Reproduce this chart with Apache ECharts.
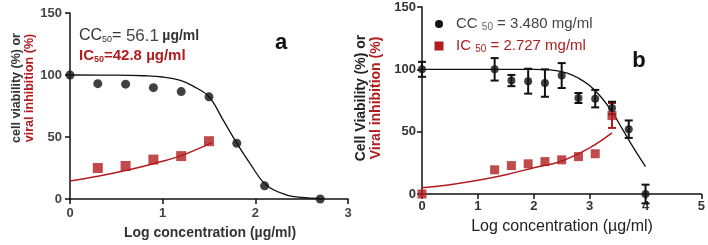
<!DOCTYPE html>
<html><head><meta charset="utf-8">
<script src="https://cdn.jsdelivr.net/npm/echarts@6/dist/echarts.min.js"></script>
<style>html,body{margin:0;padding:0;background:#fff}#c{width:708px;height:245px}</style>
</head><body><div id="c"></div>
<script>
// Panel a
const aXTicks = [0, 1, 2, 3];
const aYTicks = [0, 50, 100, 150];
const aViability = [[0,100],[0.3,93],[0.6,92.6],[0.9,89.8],[1.2,86.6],[1.5,82.4],[1.8,45],[2.1,10.6],[2.7,0]];
const aInhibition = [[0.3,25],[0.6,26.6],[0.9,31.8],[1.2,34.6],[1.5,46.6]];
const aViabilityFit = [[0,100],[0.5,99.9],[0.8,99.4],[1.0,98.4],[1.2,95.5],[1.33,91],[1.5,82.5],[1.65,64],[1.8,45],[1.94,29],[2.12,11],[2.34,3.2],[2.5,1.2],[2.7,0.4]];
const aInhibitionFit = [[0,14.6],[0.3,18.4],[0.6,23],[0.9,28.5],[1.2,35],[1.53,45.5]];
// Panel b
const bXTicks = [0, 1, 2, 3, 4, 5];
const bViability = [[0,100],[1.3,100],[1.6,91],[1.9,90.5],[2.2,89],[2.5,95],[2.8,77],[3.1,76.5],[3.4,69],[3.7,52],[4.0,0]];
const bViabilityErr = [6,9,4.5,10,11,10,4,7,5,7,7.5];
const bInhibition = [[0,0],[1.3,19.4],[1.6,22.8],[1.9,24.2],[2.2,26],[2.5,27.4],[2.8,30],[3.1,32.3],[3.4,63]];
const bInhibitionErr = [0,0,0,0,0,0,0,0,10];
const bViabilityFit = [[0,100],[2,100],[2.3,99.5],[2.6,97],[2.8,93],[3.0,87],[3.2,78],[3.4,66],[3.6,51],[3.8,36],[4.0,22]];
const bInhibitionFit = [[0,5],[0.5,7.5],[1,11],[1.5,15.5],[2,21],[2.5,26.5],[3,37],[3.4,49]];

const RED = '#b11d1f';
const DARK = '#111';

function errSeries(data, errs, xi, color) {
  return {
    type: 'custom', xAxisIndex: xi, yAxisIndex: xi, z: 3,
    data: data.map((d, i) => [d[0], d[1], errs[i]]).filter(d => d[2] > 0),
    renderItem: function (params, api) {
      const x = api.value(0), y = api.value(1), e = api.value(2);
      const lo = api.coord([x, y - e]), hi = api.coord([x, y + e]);
      const w = 4;
      const st = { stroke: color, lineWidth: 2 };
      return { type: 'group', children: [
        { type: 'line', shape: { x1: lo[0], y1: lo[1], x2: hi[0], y2: hi[1] }, style: st },
        { type: 'line', shape: { x1: lo[0] - w, y1: lo[1], x2: lo[0] + w, y2: lo[1] }, style: st },
        { type: 'line', shape: { x1: hi[0] - w, y1: hi[1], x2: hi[0] + w, y2: hi[1] }, style: st }
      ]};
    }
  };
}

function xAxis(gi, max, labelStyle) {
  return {
    type: 'value', gridIndex: gi, min: 0, max: max, interval: 1,
    axisLine: { show: true, onZero: false, lineStyle: { color: '#111', width: 1.5 } },
    axisTick: { show: true, length: 5, lineStyle: { color: '#111', width: 1.5 } },
    splitLine: { show: false },
    axisLabel: Object.assign({ margin: 8, fontFamily: 'Liberation Sans', formatter: v => String(v) }, labelStyle)
  };
}
function yAxis(gi, labelStyle) {
  return {
    type: 'value', gridIndex: gi, min: 0, max: 150, interval: 50,
    axisLine: { show: true, onZero: false, lineStyle: { color: '#111', width: 1.5 } },
    axisTick: { show: true, length: 5, lineStyle: { color: '#111', width: 1.5 } },
    splitLine: { show: false },
    axisLabel: Object.assign({ margin: 8, fontFamily: 'Liberation Sans' }, labelStyle)
  };
}

const chart = echarts.init(document.getElementById('c'), null, { renderer: 'canvas' });
chart.setOption({
  animation: false,
  backgroundColor: '#fff',
  grid: [
    { left: 70, top: 13, width: 278, height: 186 },
    { left: 422, top: 7, width: 280, height: 187 }
  ],
  xAxis: [
    xAxis(0, 3, { fontSize: 13, fontWeight: 'bold', color: '#444' }),
    xAxis(1, 5, { fontSize: 13, fontWeight: 'bold', color: '#333', margin: 6 })
  ],
  yAxis: [
    yAxis(0, { fontSize: 13, fontWeight: 'bold', color: '#444' }),
    yAxis(1, { fontSize: 13, fontWeight: 'bold', color: '#333', margin: 6 })
  ],
  series: [
    { type: 'line', xAxisIndex: 0, yAxisIndex: 0, data: aViabilityFit, smooth: 0.4, symbol: 'none', lineStyle: { color: DARK, width: 1.3 }, z: 2 },
    { type: 'line', xAxisIndex: 0, yAxisIndex: 0, data: aInhibitionFit, smooth: 0.4, symbol: 'none', lineStyle: { color: RED, width: 1.5 }, z: 2 },
    { type: 'scatter', xAxisIndex: 0, yAxisIndex: 0, data: aViability, symbol: 'circle', symbolSize: 9, itemStyle: { color: DARK }, z: 4, clip: false },
    { type: 'scatter', xAxisIndex: 0, yAxisIndex: 0, data: aInhibition, symbol: 'rect', symbolSize: 10, itemStyle: { color: RED }, z: 4, clip: false },

    { type: 'line', xAxisIndex: 1, yAxisIndex: 1, data: bViabilityFit, smooth: 0.4, symbol: 'none', lineStyle: { color: DARK, width: 1.3 }, z: 2 },
    { type: 'line', xAxisIndex: 1, yAxisIndex: 1, data: bInhibitionFit, smooth: 0.4, symbol: 'none', lineStyle: { color: RED, width: 1.5 }, z: 2 },
    errSeries(bInhibition, bInhibitionErr, 1, RED),
    errSeries(bViability, bViabilityErr, 1, DARK),
    { type: 'scatter', xAxisIndex: 1, yAxisIndex: 1, data: bInhibition, symbol: 'rect', symbolSize: 9, itemStyle: { color: RED }, z: 4, clip: false },
    { type: 'scatter', xAxisIndex: 1, yAxisIndex: 1, data: bViability, symbol: 'circle', symbolSize: 8, itemStyle: { color: DARK }, z: 5, clip: false }
  ],
  graphic: [
    // panel a y title
    { type: 'text', x: 17, y: 88, rotation: Math.PI / 2, style: { text: 'cell viability (%) or', fill: '#333', font: 'bold 12.5px "Liberation Sans"', align: 'center', verticalAlign: 'middle' } },
    { type: 'text', x: 30, y: 88, rotation: Math.PI / 2, style: { text: 'viral inhibition (%)', fill: RED, font: 'bold 12.5px "Liberation Sans"', align: 'center', verticalAlign: 'middle' } },
    // panel a x title
    { type: 'text', x: 210, y: 233, style: { text: 'Log concentration (µg/ml)', fill: '#333', font: 'bold 14px "Liberation Sans"', align: 'center', verticalAlign: 'middle' } },
    // panel a annotations
    { type: 'text', x: 79, y: 36, style: { text: '{n|CC}{s|50}{n|= }{v|56.1} {u|µg/ml}', verticalAlign: 'middle', rich: {
      n: { fontFamily: 'Liberation Sans', fontSize: 16, fill: '#333' },
      s: { fontFamily: 'Liberation Sans', fontSize: 9, fill: '#333', verticalAlign: 'bottom', padding: [7, 0, 0, 0] },
      v: { fontFamily: 'Liberation Sans', fontSize: 17, fill: '#444' },
      u: { fontFamily: 'Liberation Sans', fontSize: 14, fontWeight: 'bold', fill: '#333' } } } },
    { type: 'text', x: 79, y: 56, style: { text: '{n|IC}{s|50}{n|=42.8 µg/ml}', verticalAlign: 'middle', rich: {
      n: { fontFamily: 'Liberation Sans', fontSize: 15, fontWeight: 'bold', fill: RED },
      s: { fontFamily: 'Liberation Sans', fontSize: 9, fontWeight: 'bold', fill: RED, verticalAlign: 'bottom', padding: [7, 0, 0, 0] } } } },
    { type: 'text', x: 281, y: 43, style: { text: 'a', fill: '#111', font: 'bold 22px "Liberation Sans"', align: 'center', verticalAlign: 'middle' } },

    // panel b y title
    { type: 'text', x: 361, y: 98, rotation: Math.PI / 2, style: { text: 'Cell Viability (%) or', fill: '#222', font: 'bold 14px "Liberation Sans"', align: 'center', verticalAlign: 'middle' } },
    { type: 'text', x: 376, y: 98, rotation: Math.PI / 2, style: { text: 'Viral inhibition (%)', fill: RED, font: 'bold 14px "Liberation Sans"', align: 'center', verticalAlign: 'middle' } },
    // panel b x title
    { type: 'text', x: 562, y: 227, style: { text: 'Log concentration (µg/ml)', fill: '#222', font: '16px "Liberation Sans"', align: 'center', verticalAlign: 'middle' } },
    // panel b legend
    { type: 'circle', shape: { cx: 439, cy: 24, r: 4 }, style: { fill: DARK } },
    { type: 'text', x: 456, y: 24, style: { text: '{n|CC }{s|50}{n| = 3.480 mg/ml}', verticalAlign: 'middle', rich: {
      n: { fontFamily: 'Liberation Sans', fontSize: 15, fill: '#444' },
      s: { fontFamily: 'Liberation Sans', fontSize: 10, fill: '#666', verticalAlign: 'bottom', padding: [7, 0, 0, 0] } } } },
    { type: 'rect', shape: { x: 434.5, y: 41.5, width: 9, height: 9 }, style: { fill: RED } },
    { type: 'text', x: 456, y: 46, style: { text: '{n|IC }{s|50}{n| = 2.727 mg/ml}', verticalAlign: 'middle', rich: {
      n: { fontFamily: 'Liberation Sans', fontSize: 15, fill: RED },
      s: { fontFamily: 'Liberation Sans', fontSize: 10, fill: RED, verticalAlign: 'bottom', padding: [7, 0, 0, 0] } } } },
    { type: 'text', x: 639, y: 61, style: { text: 'b', fill: '#111', font: 'bold 22px "Liberation Sans"', align: 'center', verticalAlign: 'middle' } }
  ]
});
</script></body></html>
